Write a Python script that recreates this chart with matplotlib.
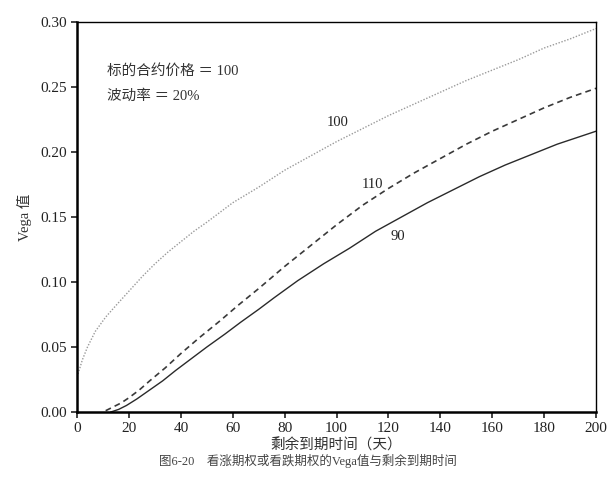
import matplotlib
matplotlib.use("Agg")
import matplotlib.pyplot as plt

plt.rcParams['font.family'] = ['Liberation Serif', 'Noto Sans CJK SC']

# Vega curves (days to expiry, vega)
days_100 = [0, 2, 4, 7, 11, 15, 20, 25, 30, 35, 40, 45, 50, 60, 70, 80, 90,
            100, 110, 120, 130, 140, 150, 160, 170, 180, 190, 200]
vega_100 = [0.027, 0.040, 0.050, 0.062, 0.073, 0.082, 0.093, 0.104, 0.114,
            0.123, 0.131, 0.139, 0.146, 0.161, 0.173, 0.186, 0.197, 0.208,
            0.218, 0.228, 0.237, 0.246, 0.255, 0.263, 0.271, 0.280, 0.287, 0.295]

days_110 = [11, 14, 17, 20, 24, 28, 34, 40, 47, 55, 62, 70, 80, 90, 100,
            110, 120, 130, 140, 150, 160, 170, 180, 190, 200]
vega_110 = [0.001, 0.004, 0.007, 0.011, 0.017, 0.024, 0.034, 0.045, 0.057,
            0.070, 0.082, 0.095, 0.112, 0.128, 0.144, 0.159, 0.172, 0.184,
            0.195, 0.206, 0.216, 0.225, 0.234, 0.242, 0.249]

days_90 = [13, 16, 19, 23, 28, 33, 38, 44, 50, 57, 63, 70, 76, 85, 95, 105,
           115, 125, 135, 145, 155, 165, 175, 185, 200]
vega_90 = [0.000, 0.002, 0.005, 0.010, 0.017, 0.024, 0.032, 0.041, 0.050,
           0.060, 0.069, 0.079, 0.088, 0.101, 0.114, 0.126, 0.139, 0.150,
           0.161, 0.171, 0.181, 0.190, 0.198, 0.206, 0.216]

x_ticks = list(range(0, 201, 20))
y_ticks = [0.00, 0.05, 0.10, 0.15, 0.20, 0.25, 0.30]

fig = plt.figure(figsize=(6.12, 5.0), dpi=100)
ax = fig.add_axes([0.126, 0.176, 0.848, 0.780])

ax.plot(days_100, vega_100, color='#9a9a9a', lw=1.0, ls=(0, (1, 1.2)))
ax.plot(days_110, vega_110, color='#3a3a3a', lw=1.2, ls=(0, (3.5, 2.5)))
ax.plot(days_90, vega_90, color='#2a2a2a', lw=1.0, ls='-')

ax.text(100.5, 0.223, '100', ha='center', va='center', fontsize=10.5, color='#222222')
ax.text(114, 0.175, '110', ha='center', va='center', fontsize=10.5, color='#222222')
ax.text(123.5, 0.135, '90', ha='center', va='center', fontsize=10.5, color='#222222')

ax.text(11.5, 0.262, '标的合约价格 ＝ 100', ha='left', va='center', fontsize=10.5, color='#333333')
ax.text(11.5, 0.243, '波动率 ＝ 20%', ha='left', va='center', fontsize=10.5, color='#333333')

ax.set_xlim(0, 200)
ax.set_ylim(0, 0.30)
ax.set_xticks(x_ticks)
ax.set_yticks(y_ticks)
ax.set_yticklabels([f'{v:.2f}' for v in y_ticks])
ax.tick_params(direction='out', length=4, width=1.2, labelsize=11, colors='#222222')

for side in ['left', 'bottom']:
    ax.spines[side].set_linewidth(1.8)
for side in ['top', 'right']:
    ax.spines[side].set_linewidth(1.0)

ax.set_xlabel('剩余到期时间（天）', fontsize=10.5, color='#333333', labelpad=2)
ax.set_ylabel('Vega 值', fontsize=10.5, color='#333333', labelpad=6)

fig.text(0.503, 0.078, '图6-20　看涨期权或看跌期权的Vega值与剩余到期时间',
         ha='center', va='center', fontsize=9, color='#444444')

fig.savefig('out.png', dpi=100)
